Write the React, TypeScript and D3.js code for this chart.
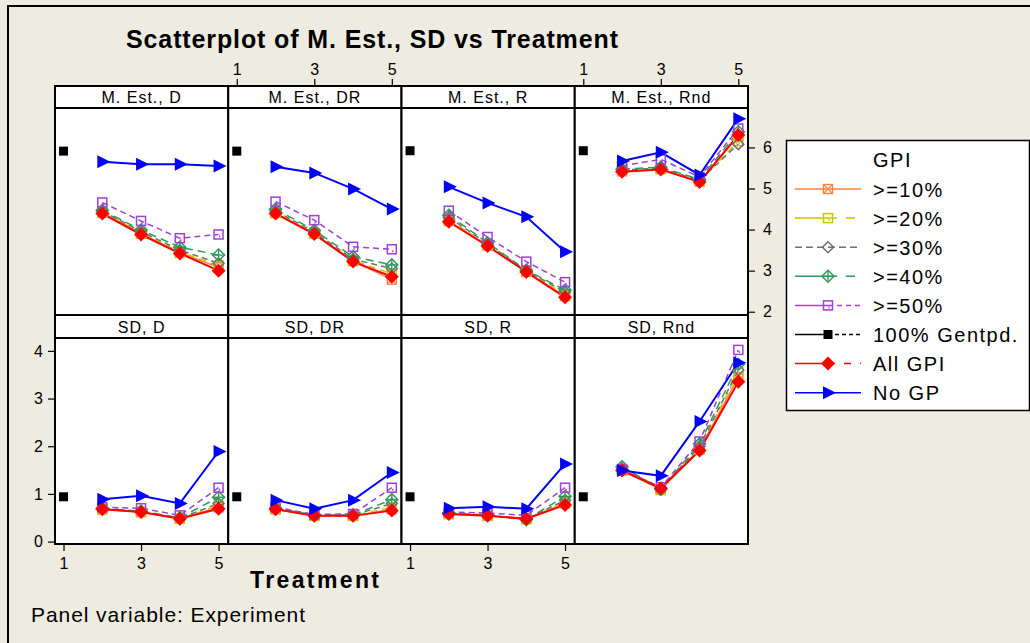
import React, { useEffect, useRef } from "react";
import * as d3 from "d3";

// panels, read left-to-right, top row first
const panelNames = [
  "M. Est., D", "M. Est., DR", "M. Est., R", "M. Est., Rnd",
  "SD, D", "SD, DR", "SD, R", "SD, Rnd",
];
const treatments = [2, 3, 4, 5];
const gentpdTreatment = 1;
const xTicks = [1, 3, 5];
const meanTicks = [2, 3, 4, 5, 6];
const sdTicks = [0, 1, 2, 3, 4];

// one value per panel (only at treatment 1)
const gentpd = [5.91, 5.91, 5.92, 5.92, 0.94, 0.94, 0.94, 0.94];

// each row = one panel, values at treatments 2..5
const ge10 = [
  [4.41, 3.90, 3.44, 3.08], [4.40, 3.90, 3.23, 2.78], [4.21, 3.61, 2.97, 2.38], [5.42, 5.47, 5.17, 6.28],
  [0.68, 0.62, 0.48, 0.72], [0.68, 0.54, 0.54, 0.68], [0.58, 0.54, 0.48, 0.80], [1.49, 1.10, 1.93, 3.45],
];
const ge20 = [
  [4.43, 3.92, 3.46, 3.12], [4.42, 3.91, 3.25, 2.92], [4.24, 3.63, 2.99, 2.42], [5.43, 5.48, 5.18, 6.15],
  [0.68, 0.62, 0.48, 0.75], [0.68, 0.54, 0.54, 0.72], [0.58, 0.54, 0.47, 0.82], [1.50, 1.08, 1.95, 3.55],
];
const ge30 = [
  [4.45, 3.95, 3.50, 3.18], [4.45, 3.94, 3.28, 3.05], [4.30, 3.65, 3.00, 2.48], [5.45, 5.50, 5.20, 6.08],
  [0.69, 0.63, 0.49, 0.80], [0.69, 0.55, 0.55, 0.80], [0.59, 0.55, 0.47, 0.87], [1.53, 1.10, 2.00, 3.60],
];
const ge40 = [
  [4.47, 3.99, 3.57, 3.38], [4.50, 3.98, 3.34, 3.14], [4.35, 3.68, 3.01, 2.53], [5.47, 5.52, 5.22, 6.38],
  [0.70, 0.64, 0.50, 0.93], [0.70, 0.56, 0.56, 0.88], [0.60, 0.56, 0.46, 0.95], [1.57, 1.10, 2.05, 3.72],
];
const ge50 = [
  [4.66, 4.21, 3.79, 3.88], [4.68, 4.23, 3.58, 3.52], [4.46, 3.82, 3.22, 2.72], [5.55, 5.71, 5.28, 6.46],
  [0.72, 0.70, 0.55, 1.13], [0.72, 0.57, 0.58, 1.13], [0.62, 0.60, 0.55, 1.13], [1.52, 1.14, 2.10, 4.02],
];
const allGPI = [
  [4.39, 3.88, 3.42, 3.00], [4.39, 3.89, 3.22, 2.85], [4.19, 3.60, 2.97, 2.35], [5.41, 5.46, 5.16, 6.30],
  [0.68, 0.62, 0.48, 0.69], [0.68, 0.54, 0.54, 0.65], [0.58, 0.54, 0.48, 0.77], [1.49, 1.12, 1.91, 3.35],
];
const noGP = [
  [5.65, 5.59, 5.59, 5.55], [5.53, 5.38, 4.99, 4.50], [5.04, 4.65, 4.31, 3.46], [5.67, 5.88, 5.33, 6.70],
  [0.89, 0.96, 0.80, 1.89], [0.87, 0.69, 0.87, 1.45], [0.70, 0.73, 0.69, 1.63], [1.49, 1.38, 2.52, 3.75],
];

const seriesNames = [">=10%", ">=20%", ">=30%", ">=40%", ">=50%", "100% Gentpd.", "All GPI", "No GP"];

const FONT = "Arial, 'Liberation Sans', sans-serif";

function drawMarker(g, kind, cx, cy, color) {
  if (kind === "boxx") {
    const s = 4.5;
    g.append("rect").attr("x", cx - s).attr("y", cy - s).attr("width", 2 * s).attr("height", 2 * s)
      .attr("fill", "none").attr("stroke", color).attr("stroke-width", 1.4);
    g.append("path").attr("d", `M${cx - s},${cy - s}L${cx + s},${cy + s}M${cx + s},${cy - s}L${cx - s},${cy + s}`)
      .attr("stroke", color).attr("stroke-width", 1.2);
  } else if (kind === "sq") {
    const s = 4.5;
    g.append("rect").attr("x", cx - s).attr("y", cy - s).attr("width", 2 * s).attr("height", 2 * s)
      .attr("fill", "none").attr("stroke", color).attr("stroke-width", 1.5);
    g.append("path").attr("d", `M${cx + 1},${cy + 1}L${cx + 1},${cy + 3}`).attr("stroke", color).attr("stroke-width", 1.2);
  } else if (kind === "dia") {
    const s = 5.5;
    g.append("path").attr("d", `M${cx},${cy - s}L${cx + s},${cy}L${cx},${cy + s}L${cx - s},${cy}Z`)
      .attr("fill", "none").attr("stroke", color).attr("stroke-width", 1.5);
  } else if (kind === "diaplus") {
    const s = 6;
    g.append("path").attr("d", `M${cx},${cy - s}L${cx + s},${cy}L${cx},${cy + s}L${cx - s},${cy}Z`)
      .attr("fill", "none").attr("stroke", color).attr("stroke-width", 1.5);
    g.append("path").attr("d", `M${cx},${cy - s}L${cx},${cy + s}M${cx - s},${cy}L${cx + s},${cy}`)
      .attr("stroke", color).attr("stroke-width", 1.3);
  } else if (kind === "fsq") {
    const s = 4.5;
    g.append("rect").attr("x", cx - s).attr("y", cy - s).attr("width", 2 * s).attr("height", 2 * s).attr("fill", color);
  } else if (kind === "fdia") {
    const s = 7;
    g.append("path").attr("d", `M${cx},${cy - s}L${cx + s},${cy}L${cx},${cy + s}L${cx - s},${cy}Z`).attr("fill", color);
  } else if (kind === "tri") {
    g.append("path").attr("d", `M${cx - 5},${cy - 6.5}L${cx + 8},${cy}L${cx - 5},${cy + 6.5}Z`).attr("fill", color);
  }
}

export default function App() {
  const svgRef = useRef(null);

  useEffect(() => {
    const W = 1030;
    const H = 643;
    const svg = d3.select(svgRef.current);
    svg.selectAll("*").remove();
    svg.attr("width", W).attr("height", H).style("font-family", FONT);

    const series = [
      { name: seriesNames[0], values: ge10, color: "#FF8040", dash: null, marker: "boxx", legL: null, legR: null },
      { name: seriesNames[1], values: ge20, color: "#C8C400", dash: "7,5", marker: "sq", legL: null, legR: "9,9" },
      { name: seriesNames[2], values: ge30, color: "#707070", dash: "6,4", marker: "dia", legL: "7,4", legR: "7,4" },
      { name: seriesNames[3], values: ge40, color: "#2E9B5E", dash: "8,5", marker: "diaplus", legL: null, legR: "9,9" },
      { name: seriesNames[4], values: ge50, color: "#A040D8", dash: "6,4", marker: "sq", legL: null, legR: "5,4" },
      { name: seriesNames[5], values: null, color: "#000000", dash: null, marker: "fsq", legL: null, legR: "4,3" },
      { name: seriesNames[6], values: allGPI, color: "#FF0000", dash: null, marker: "fdia", legL: null, legR: "7,9" },
      { name: seriesNames[7], values: noGP, color: "#0000FF", dash: null, marker: "tri", legL: null, legR: null },
    ];

    svg.append("rect").attr("width", W).attr("height", H).attr("fill", "#EEEBE1");
    svg.append("rect").attr("x", 8).attr("y", 6).attr("width", W + 20).attr("height", H + 20)
      .attr("fill", "none").attr("stroke", "#000").attr("stroke-width", 2);

    const gridLeft = 55;
    const gridRight = 748;
    const colW = (gridRight - gridLeft) / 4;
    const rows = [
      { stripTop: 86, plotTop: 108, plotBottom: 315, domain: [1.92, 6.96] },
      { stripTop: 315, plotTop: 338, plotBottom: 544, domain: [-0.05, 4.27] },
    ];

    const defs = svg.append("defs");

    panelNames.forEach((pname, p) => {
      const r = Math.floor(p / 4);
      const c = p % 4;
      const row = rows[r];
      const left = gridLeft + c * colW;
      const x = d3.scaleLinear().domain([0.78, 5.25]).range([left, left + colW]);
      const y = d3.scaleLinear().domain(row.domain).range([row.plotBottom, row.plotTop]);

      const g = svg.append("g").attr("class", "panel");
      g.append("rect").attr("x", left).attr("y", row.plotTop).attr("width", colW)
        .attr("height", row.plotBottom - row.plotTop).attr("fill", "#fff");

      defs.append("clipPath").attr("id", `clip${p}`).append("rect")
        .attr("x", left).attr("y", row.plotTop).attr("width", colW).attr("height", row.plotBottom - row.plotTop);
      const data = g.append("g").attr("clip-path", `url(#clip${p})`);

      const line = d3.line().x((d, i) => x(treatments[i])).y((d) => y(d));

      series.forEach((s) => {
        if (!s.values) return;
        data.append("path").attr("d", line(s.values[p]))
          .attr("fill", "none").attr("stroke", s.color)
          .attr("stroke-width", s.name === "No GP" || s.name === "All GPI" ? 2 : 1.5)
          .attr("stroke-dasharray", s.dash);
      });
      series.forEach((s) => {
        if (s.values) {
          s.values[p].forEach((v, i) => drawMarker(data, s.marker, x(treatments[i]), y(v), s.color));
        } else {
          drawMarker(data, s.marker, x(gentpdTreatment), y(gentpd[p]), s.color);
        }
      });

      g.append("rect").attr("x", left).attr("y", row.plotTop).attr("width", colW)
        .attr("height", row.plotBottom - row.plotTop).attr("fill", "none").attr("stroke", "#000").attr("stroke-width", 2);
      g.append("rect").attr("x", left).attr("y", row.stripTop).attr("width", colW)
        .attr("height", row.plotTop - row.stripTop).attr("fill", "#fff").attr("stroke", "#000").attr("stroke-width", 2);
      g.append("text").attr("x", left + colW / 2).attr("y", row.plotTop - 5)
        .attr("text-anchor", "middle").attr("font-size", 16).attr("letter-spacing", 1)
        .attr("fill", "#000").text(pname);

      // axes: top on columns 2 & 4, bottom on columns 1 & 3 (lower row)
      if (r === 0 && (c === 1 || c === 3)) {
        const ax = svg.append("g").attr("transform", `translate(0,${row.stripTop})`)
          .call(d3.axisTop(x).tickValues(xTicks).tickSize(7).tickPadding(4).tickFormat(d3.format("d")));
        ax.select(".domain").remove();
      }
      if (r === 1 && (c === 0 || c === 2)) {
        const ax = svg.append("g").attr("transform", `translate(0,${row.plotBottom})`)
          .call(d3.axisBottom(x).tickValues(xTicks).tickSize(7).tickPadding(7).tickFormat(d3.format("d")));
        ax.select(".domain").remove();
      }
      if (r === 0 && c === 3) {
        const ax = svg.append("g").attr("transform", `translate(${gridRight},0)`)
          .call(d3.axisRight(y).tickValues(meanTicks).tickSize(7).tickPadding(8).tickFormat(d3.format("d")));
        ax.select(".domain").remove();
      }
      if (r === 1 && c === 0) {
        const ax = svg.append("g").attr("transform", `translate(${gridLeft},0)`)
          .call(d3.axisLeft(y).tickValues(sdTicks).tickSize(7).tickPadding(5).tickFormat(d3.format("d")));
        ax.select(".domain").remove();
      }
    });

    svg.selectAll(".tick text").attr("font-size", 16).attr("font-family", FONT).attr("fill", "#000");
    svg.selectAll(".tick line").attr("stroke", "#000").attr("stroke-width", 1.2);

    // titles
    svg.append("text").attr("x", 126).attr("y", 48).attr("font-size", 25).attr("font-weight", "bold")
      .attr("textLength", 492).attr("lengthAdjust", "spacing").attr("fill", "#000")
      .text("Scatterplot of M. Est., SD vs Treatment");
    svg.append("text").attr("x", 250).attr("y", 588).attr("font-size", 23).attr("font-weight", "bold")
      .attr("textLength", 129).attr("lengthAdjust", "spacing").attr("fill", "#000").text("Treatment");
    svg.append("text").attr("x", 31).attr("y", 622).attr("font-size", 21)
      .attr("textLength", 274).attr("lengthAdjust", "spacing").attr("fill", "#000").text("Panel variable: Experiment");

    // legend
    const lg = svg.append("g");
    lg.append("rect").attr("x", 786.5).attr("y", 140.5).attr("width", 243).attr("height", 270)
      .attr("fill", "#fff").attr("stroke", "#000").attr("stroke-width", 1.5);
    lg.append("text").attr("x", 873).attr("y", 166.5).attr("font-size", 20).attr("letter-spacing", 1.5)
      .attr("fill", "#000").text("GPI");
    series.forEach((s, i) => {
      const ly = 189 + i * 29.1;
      lg.append("line").attr("x1", 795).attr("x2", 828).attr("y1", ly).attr("y2", ly)
        .attr("stroke", s.color).attr("stroke-width", 1.5).attr("stroke-dasharray", s.legL);
      lg.append("line").attr("x1", 828).attr("x2", 861).attr("y1", ly).attr("y2", ly)
        .attr("stroke", s.color).attr("stroke-width", 1.5).attr("stroke-dasharray", s.legR);
      drawMarker(lg, s.marker, 828, ly, s.color);
      lg.append("text").attr("x", 873).attr("y", ly + 7.5).attr("font-size", 20).attr("letter-spacing", 1.5)
        .attr("fill", "#000").text(s.name);
    });
  }, []);

  return (
    <div style={{ position: "absolute", left: 0, top: 0 }}>
      <svg ref={svgRef} style={{ display: "block" }}></svg>
    </div>
  );
}
